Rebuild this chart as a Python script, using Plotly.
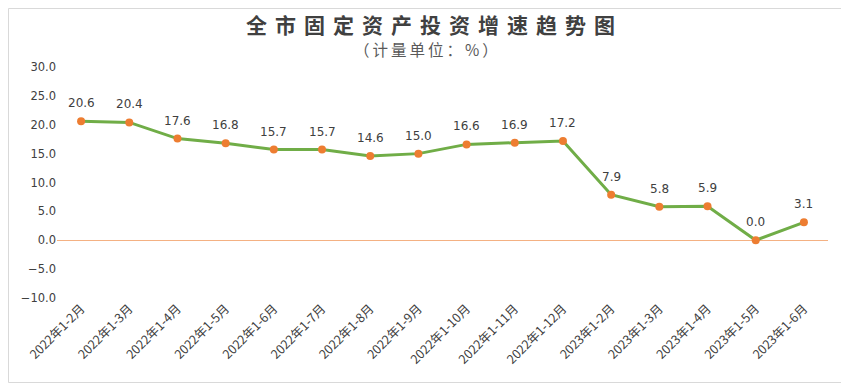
import plotly.graph_objects as go

categories = ["2022年1-2月", "2022年1-3月", "2022年1-4月", "2022年1-5月", "2022年1-6月",
              "2022年1-7月", "2022年1-8月", "2022年1-9月", "2022年1-10月", "2022年1-11月",
              "2022年1-12月", "2023年1-2月", "2023年1-3月", "2023年1-4月", "2023年1-5月",
              "2023年1-6月"]
values = [20.6, 20.4, 17.6, 16.8, 15.7, 15.7, 14.6, 15.0, 16.6, 16.9, 17.2, 7.9, 5.8, 5.9, 0.0, 3.1]
y_ticks = [-10, -5, 0, 5, 10, 15, 20, 25, 30]

OFF = 8  # page body offset
W, H = 849 - OFF, 383 - OFF
ml, mt = 57 - OFF, 67 - OFF
pw, ph = 771, 231
mr, mb = W - ml - pw, H - mt - ph

fig = go.Figure()
fig.add_trace(go.Scatter(
    x=categories, y=values, mode="lines+markers",
    line=dict(color="#70AD47", width=3),
    marker=dict(color="#ED7D31", size=8),
    cliponaxis=False, showlegend=False,
))

label_annotations = [
    dict(x=c, y=v, xref="x", yref="y", text=f"{v:.1f}", showarrow=False,
         yshift=18, xanchor="center", yanchor="middle",
         font=dict(family="DejaVu Sans", size=12, color="#404040"))
    for c, v in zip(categories, values)
]

fig.update_layout(
    width=W, height=H,
    margin=dict(l=ml, r=mr, t=mt, b=mb),
    paper_bgcolor="white", plot_bgcolor="white",
    xaxis=dict(tickangle=-45, showgrid=False, showline=False, ticks="", automargin=False,
               tickfont=dict(family="Noto Sans CJK SC", size=12.5, color="#404040"),
               range=[-0.5, len(categories) - 0.5]),
    yaxis=dict(range=[-10, 30], tickvals=y_ticks, tickformat=".1f", showgrid=False, automargin=False,
               zeroline=True, zerolinecolor="#F4B183", zerolinewidth=1, showline=False,
               tickfont=dict(family="DejaVu Sans", size=11.5, color="#404040")),
    annotations=label_annotations + [
        dict(text='<span style="letter-spacing:8px">全市固定资产投资增速趋势图</span>', xref="paper", yref="paper",
             x=(434 - 57) / pw, y=1 + (67 - 24) / ph, xanchor="center", yanchor="middle",
             showarrow=False, font=dict(family="Noto Sans CJK SC", size=21, color="#404040", weight="bold"),
             ),
        dict(text='<span style="letter-spacing:3px">（计量单位：%）</span>', xref="paper", yref="paper",
             x=(427 - 57) / pw, y=1 + (67 - 49) / ph, xanchor="center", yanchor="middle",
             showarrow=False, font=dict(family="Noto Sans CJK SC", size=15.5, color="#595959")),
    ],
    shapes=[dict(type="rect", xref="paper", yref="paper",
                 x0=(0.5 - ml) / pw, x1=(W - 0.5 - ml) / pw,
                 y0=-(mb - 0.5) / ph, y1=1 + (mt - 0.5) / ph,
                 line=dict(color="#D9D9D9", width=1), layer="below")],
)

fig.write_html("out.html")
